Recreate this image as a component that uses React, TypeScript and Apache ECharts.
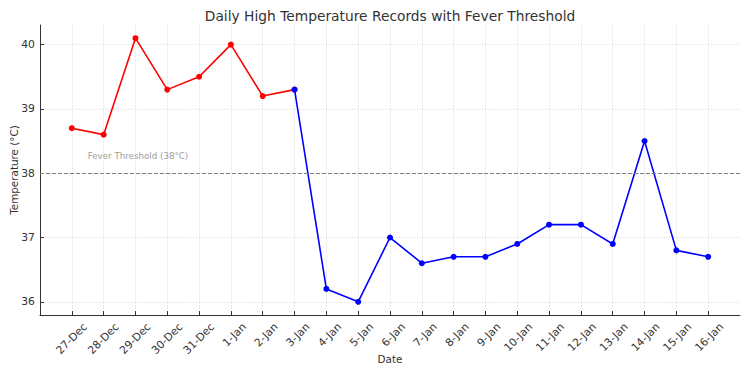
import React, { useEffect, useRef } from "react";
import * as echarts from "echarts";

// Daily high temperatures, 27 Dec – 16 Jan
const dates = [
  "27-Dec", "28-Dec", "29-Dec", "30-Dec", "31-Dec", "1-Jan", "2-Jan", "3-Jan",
  "4-Jan", "5-Jan", "6-Jan", "7-Jan", "8-Jan", "9-Jan", "10-Jan", "11-Jan",
  "12-Jan", "13-Jan", "14-Jan", "15-Jan", "16-Jan",
];
const highs = [
  38.7, 38.6, 40.1, 39.3, 39.5, 40.0, 39.2, 39.3,
  36.2, 36.0, 37.0, 36.6, 36.7, 36.7, 36.9, 37.2,
  37.2, 36.9, 38.5, 36.8, 36.7,
];
const feverThreshold = 38;
const feverLabel = "Fever Threshold (38°C)";
// last day of the fever spell (3-Jan): red up to here, blue from here on
const feverEndIndex = 7;
const yTicks = [36, 37, 38, 39, 40];
const xTicks = dates.map((_, i) => i);

const FONT = "DejaVu Sans";
const TEXT = "#333333";
const TICK_SIZE = 10.8;
const NAME_SIZE = 10.4;

export default function App() {
  const ref = useRef<HTMLDivElement>(null);

  useEffect(() => {
    if (!ref.current) return;
    const chart = echarts.init(ref.current, undefined, { renderer: "svg" });

    const feverPts = highs.slice(0, feverEndIndex + 1).map((v, i) => [i, v]);
    const normalPts = highs.slice(feverEndIndex).map((v, i) => [i + feverEndIndex, v]);

    const gridLine = { show: true, lineStyle: { color: "#d0d0d0", width: 0.8, type: [1, 1.6] } };
    // tick labels sit centred under each date, so their anchor is nudged right
    const labelShift = 0.42;

    chart.setOption({
      animation: false,
      textStyle: { fontFamily: FONT },
      graphic: [
        {
          type: "text",
          x: 390,
          y: 16,
          style: {
            text: "Daily High Temperature Records with Fever Threshold",
            font: `13.8px "${FONT}"`,
            fill: TEXT,
            textAlign: "center",
            textVerticalAlign: "middle",
          },
        },
        {
          // y-axis title, centred on the plot height
          type: "text",
          x: 14,
          y: 170,
          rotation: Math.PI / 2,
          style: {
            text: "Temperature (°C)",
            font: `${NAME_SIZE}px "${FONT}"`,
            fill: TEXT,
            textAlign: "center",
            textVerticalAlign: "middle",
          },
        },
      ],
      grid: { left: 40, right: 10, top: 25, bottom: 60, containLabel: false, outerBoundsMode: "none" },
      xAxis: [
        {
          type: "value",
          min: -1,
          max: 21,
          name: "Date",
          nameLocation: "middle",
          nameGap: 39,
          nameTextStyle: { fontFamily: FONT, fontSize: NAME_SIZE, color: TEXT },
          axisLine: { show: true, onZero: false, lineStyle: { color: TEXT, width: 1 } },
          axisTick: { show: true, inside: true, length: 4, customValues: xTicks, lineStyle: { color: TEXT } },
          axisLabel: { show: false },
          splitLine: gridLine,
        },
        {
          type: "value",
          min: -1 - labelShift,
          max: 21 - labelShift,
          position: "bottom",
          axisLine: { show: false, onZero: false },
          axisTick: { show: false },
          splitLine: { show: false },
          axisLabel: {
            show: true,
            customValues: xTicks,
            rotate: 45,
            margin: 10,
            fontFamily: FONT,
            fontSize: TICK_SIZE,
            color: TEXT,
            formatter: (v: number) => dates[Math.round(v)] ?? "",
          },
        },
      ],
      yAxis: {
        type: "value",
        min: 35.795,
        max: 40.305,
        axisLine: { show: true, onZero: false, lineStyle: { color: TEXT, width: 1 } },
        axisTick: { show: true, inside: true, length: 4, customValues: yTicks, lineStyle: { color: TEXT } },
        axisLabel: {
          customValues: yTicks,
          margin: 5,
          fontFamily: FONT,
          fontSize: TICK_SIZE,
          color: TEXT,
        },
        splitLine: gridLine,
      },
      series: [
        {
          type: "line",
          name: "Fever",
          xAxisIndex: 0,
          data: feverPts,
          color: "#ff0000",
          lineStyle: { width: 1.6 },
          symbol: "circle",
          symbolSize: 6,
          markLine: {
            silent: true,
            symbol: "none",
            label: { show: false },
            lineStyle: { color: "#808080", width: 1, type: [4, 2] },
            data: [{ yAxis: feverThreshold }],
          },
        },
        {
          type: "line",
          name: "Normal",
          xAxisIndex: 0,
          data: normalPts,
          color: "#0000ff",
          lineStyle: { width: 1.6 },
          symbol: "circle",
          symbolSize: 6,
        },
        {
          type: "scatter",
          xAxisIndex: 0,
          data: [[0.5, feverThreshold + 0.2]],
          symbolSize: 0,
          silent: true,
          label: {
            show: true,
            position: [0, 0],
            align: "left",
            verticalAlign: "bottom",
            formatter: feverLabel,
            fontFamily: FONT,
            fontSize: 8.7,
            color: "#808080",
          },
        },
      ],
    });

    return () => chart.dispose();
  }, []);

  return (
    <div
      ref={ref}
      style={{ position: "fixed", left: 0, top: 0, width: 750, height: 375, background: "#ffffff" }}
    />
  );
}
